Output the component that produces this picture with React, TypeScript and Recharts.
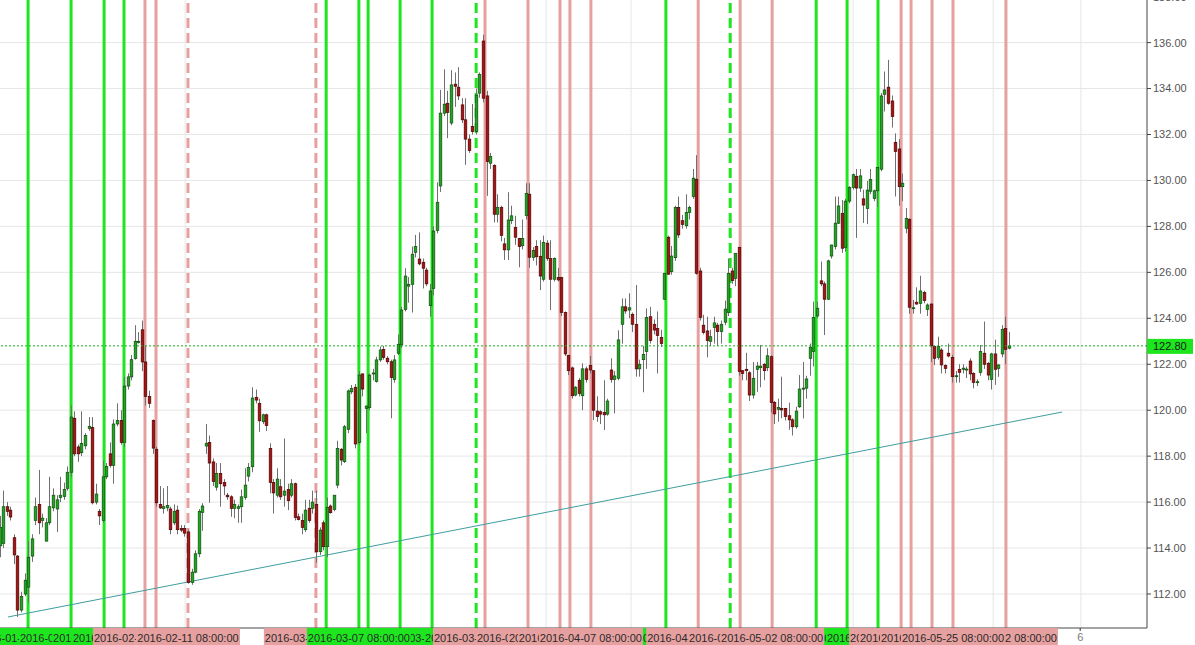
import { ComposedChart, Bar, XAxis, YAxis, CartesianGrid, ReferenceLine } from "recharts";

// [open, high, low, close], one row per 8h candle
const OHLC: [number, number, number, number][] = [
  [114.1, 115.4, 113.6, 114.9], [114.2, 116.5, 114.0, 115.8], [115.8, 116.0, 115.4, 115.6], [115.65, 115.8, 115.2, 115.35],
  [114.45, 114.6, 113.3, 113.7], [113.65, 113.7, 111.0, 111.3], [111.3, 112.1, 111.2, 111.9], [112.0, 112.9, 111.9, 112.6],
  [112.3, 114.3, 111.6, 113.6], [113.65, 114.6, 113.4, 114.4], [115.2, 116.2, 115.0, 115.8], [115.9, 117.4, 114.6, 115.1],
  [115.2, 115.5, 114.9, 115.3], [114.3, 115.3, 114.3, 115.1], [115.1, 117.1, 115.0, 115.8], [115.75, 116.6, 115.6, 116.3],
  [115.7, 116.3, 114.7, 116.1], [116.2, 117.1, 116.0, 116.3], [116.25, 116.85, 116.1, 116.55], [116.6, 117.55, 116.5, 117.3],
  [117.3, 120.2, 117.1, 119.7], [119.65, 119.95, 118.0, 118.1], [118.4, 118.5, 117.75, 118.1], [118.15, 119.95, 118.0, 118.55],
  [118.45, 119.0, 118.3, 118.9], [119.2, 119.7, 119.1, 119.3], [119.25, 119.7, 115.9, 115.97], [116.0, 116.8, 115.9, 116.35],
  [115.6, 115.7, 115.0, 115.4], [115.2, 117.8, 115.1, 117.1], [117.1, 117.7, 117.0, 117.55], [118.1, 118.6, 117.5, 117.6],
  [117.6, 119.6, 116.8, 119.4], [119.4, 120.3, 119.3, 119.55], [119.55, 120.0, 118.5, 118.6], [118.6, 121.45, 118.4, 121.05],
  [121.05, 121.6, 120.9, 121.45], [121.45, 122.4, 121.3, 122.2], [122.25, 123.7, 122.2, 123.0], [122.95, 123.4, 122.9, 123.0],
  [123.5, 123.9, 121.7, 122.1], [122.1, 122.8, 120.2, 120.6], [120.6, 120.85, 120.1, 120.3], [119.55, 119.6, 118.1, 118.35],
  [118.3, 118.4, 115.8, 115.97], [115.9, 116.7, 115.7, 115.75], [115.72, 116.6, 115.5, 115.8], [115.75, 116.7, 115.6, 115.85],
  [115.7, 115.8, 114.6, 114.8], [115.1, 115.9, 115.0, 115.6], [115.65, 115.85, 114.6, 114.8], [114.85, 115.0, 114.7, 114.78],
  [114.85, 115.0, 114.5, 114.65], [114.7, 114.8, 112.45, 112.5], [112.5, 113.1, 112.4, 112.95], [112.95, 113.9, 112.9, 113.75],
  [113.75, 115.7, 113.6, 115.6], [115.55, 115.95, 114.75, 115.83], [118.44, 119.4, 118.1, 118.56], [118.6, 118.9, 115.97, 117.7],
  [117.75, 117.9, 116.7, 116.9], [116.65, 117.7, 116.5, 117.25], [117.25, 117.7, 115.8, 116.8], [116.85, 117.0, 116.3, 116.7],
  [116.3, 116.4, 116.1, 116.23], [116.23, 116.3, 115.36, 115.73], [115.73, 116.1, 115.3, 115.9], [115.72, 115.9, 115.1, 115.8],
  [115.8, 116.55, 115.1, 116.23], [116.2, 117.47, 116.1, 116.74], [117.13, 117.7, 116.9, 117.5], [117.54, 121.0, 117.3, 120.53],
  [120.56, 120.9, 120.3, 120.44], [120.3, 120.5, 119.06, 119.54], [119.5, 119.85, 119.4, 119.8], [119.8, 119.85, 119.1, 119.33],
  [118.34, 118.56, 116.38, 116.85], [116.85, 117.0, 115.5, 116.4], [116.3, 117.47, 116.2, 117.0], [116.67, 117.0, 116.1, 116.23],
  [116.3, 118.77, 115.8, 116.48], [116.55, 116.8, 115.65, 116.06], [116.3, 117.0, 116.2, 116.8], [116.8, 116.85, 115.2, 115.33],
  [115.36, 115.5, 115.2, 115.24], [115.2, 115.5, 114.6, 114.9], [114.8, 116.1, 114.7, 115.65], [115.73, 116.1, 115.1, 115.2],
  [115.73, 116.5, 115.5, 116.0], [115.9, 116.5, 113.36, 113.84], [113.84, 114.9, 113.7, 114.78], [115.1, 115.2, 113.9, 114.06],
  [114.06, 116.2, 113.6, 115.76], [115.83, 115.9, 115.5, 115.54], [115.68, 116.3, 115.6, 116.3], [116.74, 118.67, 116.6, 118.34],
  [118.3, 118.35, 117.6, 117.83], [117.76, 119.36, 117.7, 119.28], [119.17, 120.9, 119.0, 120.84], [120.8, 121.1, 120.7, 120.95],
  [121.0, 121.14, 118.34, 118.53], [118.6, 121.7, 118.5, 121.53], [121.58, 121.6, 120.6, 120.92], [120.08, 120.2, 119.0, 120.18],
  [120.11, 121.6, 120.0, 121.53], [121.58, 121.8, 121.3, 121.62], [121.25, 122.33, 121.2, 122.19], [122.19, 122.77, 122.1, 122.62],
  [122.65, 122.8, 122.2, 122.3], [122.26, 122.35, 122.0, 122.11], [122.11, 122.2, 119.65, 121.42], [121.34, 122.4, 121.2, 122.19],
  [122.48, 123.3, 122.4, 122.87], [122.84, 124.5, 122.7, 124.36], [124.39, 126.18, 124.3, 125.84], [125.4, 125.8, 124.68, 125.48],
  [125.48, 127.12, 124.25, 126.79], [126.87, 127.63, 126.65, 127.12], [126.58, 127.74, 126.3, 126.37], [126.44, 126.6, 125.3, 126.18],
  [126.1, 126.2, 125.4, 125.5], [124.55, 125.5, 124.07, 125.19], [125.3, 128.0, 125.0, 127.8], [127.82, 129.92, 127.7, 129.05],
  [129.76, 133.94, 129.5, 132.93], [132.93, 134.84, 132.8, 133.32], [133.36, 133.9, 131.84, 132.96], [132.5, 134.8, 132.4, 134.16],
  [134.19, 134.7, 133.2, 134.1], [134.06, 134.93, 133.5, 133.68], [133.29, 133.58, 132.5, 132.64], [132.64, 133.58, 130.68, 131.8],
  [131.8, 132.0, 131.2, 131.3], [132.35, 133.33, 132.0, 132.13], [132.13, 134.0, 132.0, 133.72], [133.8, 134.7, 133.6, 134.62],
  [136.07, 136.34, 133.4, 133.58], [133.68, 133.9, 129.33, 130.82], [130.75, 131.2, 130.5, 131.04], [130.66, 130.7, 128.17, 128.53],
  [128.53, 129.4, 128.17, 128.83], [128.82, 128.9, 127.35, 127.61], [127.24, 127.5, 126.54, 126.98], [126.98, 129.49, 126.54, 128.28],
  [128.25, 128.9, 128.1, 128.46], [127.96, 128.46, 127.2, 127.53], [127.48, 127.5, 126.22, 127.12], [127.16, 128.3, 127.0, 127.48],
  [128.47, 129.88, 128.3, 129.44], [129.4, 129.88, 126.2, 126.66], [126.65, 127.1, 126.5, 126.95], [127.12, 127.4, 126.3, 126.68],
  [126.7, 127.4, 125.23, 125.84], [125.7, 127.6, 125.6, 127.3], [127.27, 127.4, 126.5, 126.6], [126.6, 127.4, 124.36, 125.7],
  [125.7, 126.65, 125.6, 126.6], [125.77, 126.2, 125.6, 125.67], [125.77, 125.8, 124.1, 124.25], [124.25, 124.3, 122.36, 122.45],
  [122.39, 122.4, 121.53, 121.72], [121.84, 121.9, 120.5, 120.63], [120.66, 121.05, 120.6, 121.0], [121.3, 121.4, 120.6, 120.73],
  [120.63, 122.04, 120.0, 121.8], [121.8, 121.9, 121.2, 121.34], [121.95, 122.36, 121.6, 121.75], [121.72, 121.75, 119.57, 120.0],
  [119.96, 120.6, 119.5, 119.72], [119.93, 120.0, 119.4, 119.83], [119.9, 121.3, 119.14, 119.8], [119.83, 120.5, 119.76, 120.4],
  [121.75, 122.26, 121.2, 121.34], [121.34, 121.7, 119.86, 121.49], [121.39, 123.48, 121.3, 123.06], [123.74, 124.87, 122.9, 124.5],
  [124.5, 124.87, 124.2, 124.32], [124.36, 125.09, 124.0, 124.46], [124.17, 124.25, 123.4, 123.74], [123.74, 125.45, 121.46, 121.8],
  [121.8, 122.2, 121.46, 122.0], [122.2, 122.8, 120.78, 122.43], [122.55, 124.43, 121.8, 124.04], [124.07, 124.5, 122.9, 123.03],
  [123.74, 123.95, 123.3, 123.49], [123.56, 124.3, 121.6, 123.25], [123.17, 123.5, 122.75, 122.9], [124.83, 125.97, 124.8, 125.96],
  [127.53, 127.6, 125.9, 125.92], [126.03, 127.15, 125.9, 126.71], [126.64, 128.9, 126.5, 128.82], [128.83, 129.3, 127.5, 127.63],
  [128.25, 128.5, 127.9, 128.09], [128.03, 129.4, 127.9, 128.61], [128.6, 128.9, 128.3, 128.82], [129.3, 130.5, 129.2, 130.1],
  [130.05, 131.1, 125.9, 125.96], [126.06, 126.2, 123.9, 124.04], [123.7, 124.15, 123.3, 123.38], [123.45, 124.07, 122.3, 123.03],
  [123.0, 123.5, 122.8, 123.2], [123.6, 124.07, 122.9, 123.8], [123.7, 123.8, 122.8, 123.42], [123.42, 123.9, 122.9, 123.74],
  [123.83, 124.77, 123.7, 124.4], [124.25, 126.6, 124.1, 125.96], [126.06, 126.2, 125.5, 125.64], [125.74, 126.83, 125.4, 126.83],
  [127.09, 127.1, 121.5, 121.68], [121.72, 121.75, 121.3, 121.6], [121.78, 122.5, 121.3, 121.72], [121.63, 121.7, 120.4, 120.66],
  [120.66, 122.1, 120.5, 121.39], [121.78, 122.1, 120.8, 121.92], [121.85, 122.84, 121.0, 121.92], [122.0, 122.05, 121.3, 121.72],
  [121.85, 122.7, 121.7, 122.37], [122.33, 122.4, 119.9, 120.33], [120.33, 120.4, 119.4, 119.84], [120.04, 120.5, 119.5, 120.12],
  [120.08, 121.46, 119.65, 120.01], [120.08, 120.1, 119.55, 119.72], [119.76, 120.33, 119.15, 119.58], [119.58, 119.65, 118.9, 119.28],
  [119.28, 120.15, 119.2, 119.96], [120.15, 121.53, 120.1, 120.92], [120.92, 122.1, 119.64, 120.96], [120.96, 121.5, 120.5, 121.36],
  [122.26, 122.9, 121.5, 122.74], [122.55, 124.73, 121.9, 124.04], [124.1, 124.73, 124.0, 124.44], [125.63, 126.47, 125.4, 125.5],
  [125.5, 125.6, 123.27, 124.83], [124.83, 126.55, 124.8, 126.5], [126.71, 127.2, 126.6, 127.19], [127.12, 129.3, 127.0, 128.14],
  [128.14, 129.3, 128.1, 128.89], [128.57, 129.15, 126.85, 127.05], [127.08, 129.2, 126.9, 129.1], [129.1, 129.75, 129.0, 129.69],
  [129.7, 130.3, 129.6, 130.25], [130.17, 130.5, 127.5, 129.67], [129.67, 130.5, 129.5, 130.2], [129.2, 129.6, 128.15, 128.93],
  [128.78, 129.98, 128.1, 129.58], [129.53, 130.5, 129.4, 130.04], [129.22, 129.6, 129.1, 129.55], [129.55, 130.57, 128.85, 130.57],
  [130.49, 133.8, 130.4, 133.68], [133.75, 134.74, 133.0, 133.94], [134.06, 135.25, 133.3, 133.36], [133.46, 133.7, 132.3, 132.78],
  [131.66, 132.05, 129.3, 131.26], [131.37, 131.8, 128.9, 129.73], [129.73, 130.3, 129.1, 129.88], [127.92, 128.8, 127.7, 128.35],
  [128.31, 128.35, 124.2, 124.48], [124.44, 124.8, 124.2, 124.46], [124.7, 125.35, 124.6, 124.62], [124.65, 125.85, 124.2, 125.19],
  [125.13, 125.2, 124.65, 124.77], [124.39, 124.65, 124.1, 124.58], [124.62, 124.65, 122.1, 122.8], [122.77, 122.8, 121.96, 122.26],
  [122.3, 123.2, 122.2, 122.77], [122.62, 122.7, 121.6, 121.97], [121.94, 122.0, 121.6, 121.82], [122.48, 122.9, 122.3, 122.36],
  [122.3, 122.4, 121.2, 121.46], [121.46, 121.7, 121.2, 121.5], [121.78, 122.0, 121.2, 121.65], [121.78, 122.0, 121.6, 121.83],
  [121.78, 121.9, 121.4, 121.79], [122.14, 122.26, 121.3, 121.58], [121.6, 121.65, 120.95, 121.2], [121.2, 121.35, 121.05, 121.24],
  [121.64, 122.84, 121.5, 122.55], [122.48, 123.86, 121.8, 122.0], [122.04, 122.1, 121.3, 121.53], [121.34, 122.5, 120.9, 122.45],
  [122.45, 123.07, 121.1, 121.78], [121.82, 122.0, 121.45, 121.97], [122.45, 123.7, 122.3, 123.52], [123.56, 124.07, 122.0, 122.65],
  [122.7, 123.4, 122.65, 122.8],
];

// signal lines, listed in the order they were drawn (later ones sit on top)
const SIGNALS: { at: number; kind: "buy" | "sell"; dashed?: boolean; date: string }[] = [
  { at: 7.9, kind: "buy", date: "2016-01-21 08:00:00" },
  { at: 20.0, kind: "buy", date: "2016-01-27 08:00:00" },
  { at: 29.3, kind: "buy", date: "2016-02-01 08:00:00" },
  { at: 34.9, kind: "buy", date: "2016-02-03 08:00:00" },
  { at: 91.8, kind: "buy", date: "2016-03-02 08:00:00" },
  { at: 103.6, kind: "buy", date: "2016-03-08 08:00:00" },
  { at: 112.6, kind: "buy", date: "2016-03-10 16:00:00" },
  { at: 121.6, kind: "buy", date: "2016-03-14 08:00:00" },
  { at: 134.0, kind: "buy", dashed: true, date: "2016-03-17 08:00:00" },
  { at: 187.4, kind: "buy", date: "2016-04-14 08:00:00" },
  { at: 205.5, kind: "buy", dashed: true, date: "2016-04-21 08:00:00" },
  { at: 229.7, kind: "buy", date: "2016-05-06 08:00:00" },
  { at: 238.4, kind: "buy", date: "2016-05-10 08:00:00" },
  { at: 247.1, kind: "buy", date: "2016-05-13 08:00:00" },
  { at: 43.9, kind: "sell", date: "2016-02-08 08:00:00" },
  { at: 40.8, kind: "sell", date: "2016-02-05 08:00:00" },
  { at: 52.9, kind: "sell", dashed: true, date: "2016-02-11 08:00:00" },
  { at: 88.9, kind: "sell", dashed: true, date: "2016-03-01 08:00:00" },
  { at: 101.0, kind: "buy", date: "2016-03-07 08:00:00" },
  { at: 136.5, kind: "sell", date: "2016-03-18 08:00:00" },
  { at: 148.6, kind: "sell", date: "2016-03-23 08:00:00" },
  { at: 157.6, kind: "sell", date: "2016-03-29 08:00:00" },
  { at: 160.4, kind: "sell", date: "2016-04-01 08:00:00" },
  { at: 166.3, kind: "sell", date: "2016-04-07 08:00:00" },
  { at: 196.5, kind: "sell", date: "2016-04-18 08:00:00" },
  { at: 208.3, kind: "sell", date: "2016-04-22 08:00:00" },
  { at: 217.3, kind: "sell", date: "2016-05-02 08:00:00" },
  { at: 283.1, kind: "sell", date: "2016-06-02 08:00:00" },
  { at: 253.6, kind: "sell", date: "2016-05-17 08:00:00" },
  { at: 256.4, kind: "sell", date: "2016-05-18 08:00:00" },
  { at: 262.3, kind: "sell", date: "2016-05-20 08:00:00" },
  { at: 268.2, kind: "sell", date: "2016-05-25 08:00:00" },
];

const V_GRID = [52.1, 153.7, 177.6, 240.1, 279.5, 304.2];
const X_TICKS = [53.5, 102.2, 147.2, 217.3, 268.2, 304.0];
const X_TICK_TEXT = ["", "", "", "", "", "6"];
const Y_TICKS = [112, 114, 116, 118, 120, 122, 124, 126, 128, 130, 132, 134, 136, 138];
const LAST_PRICE = 122.8;
const TREND = [{ x: 2.25, y: 111.0 }, { x: 298.9, y: 119.92 }];

const FONT = "'Liberation Sans', Arial, sans-serif";
const BUY = "#1ee61e";
const SELL = "#e6a0a0";

const data = OHLC.map(([open, high, low, close], i) => ({ i, open, high, low, close, range: [low, high] }));

function Candle(props: any) {
  const { x, y, width, height, payload } = props;
  if (x == null || y == null) return null;
  const top = Math.min(y, y + height);
  const bot = Math.max(y, y + height);
  const { open, high, low, close } = payload;
  const py = (v: number) => top + ((high - v) / (high - low)) * (bot - top);
  const cx = Math.round(x + width / 2) + 0.5;
  const up = close >= open;
  const bt = py(Math.max(open, close));
  const bb = py(Math.min(open, close));
  return (
    <g>
      <line x1={cx} x2={cx} y1={top} y2={bot} stroke="#707070" strokeWidth={1} />
      <rect
        x={cx - 1.3}
        y={bt}
        width={2.6}
        height={Math.max(1, bb - bt)}
        fill={up ? "#22a322" : "#a81313"}
        stroke={up ? "#0c4f0c" : "#4d0202"}
        strokeWidth={0.7}
      />
    </g>
  );
}

function DateTag({ viewBox, text, kind }: any) {
  if (!viewBox) return null;
  const w = 104;
  const x = viewBox.x - w / 2;
  const y = viewBox.y + viewBox.height;
  return (
    <g>
      <rect x={x} y={y} width={w} height={18} fill={kind === "buy" ? BUY : SELL} />
      <text x={viewBox.x} y={y + 14} textAnchor="middle" fontSize={11} fontFamily={FONT} fill="#2b2b2b">
        {text}
      </text>
    </g>
  );
}

function PriceTag({ viewBox }: any) {
  if (!viewBox) return null;
  const x = viewBox.x + viewBox.width;
  const y = viewBox.y;
  return (
    <g>
      <rect x={x} y={y - 7} width={46} height={15} fill={BUY} />
      <text x={x + 6} y={y + 4.5} fontSize={11} fontFamily={FONT} fill="#1a1a1a">
        {LAST_PRICE.toFixed(2)}
      </text>
    </g>
  );
}

export default function App() {
  return (
    <div style={{ position: "absolute", left: 0, top: -10, background: "#fff" }}>
      <ComposedChart width={1195} height={655} data={data} margin={{ top: 0, right: 0, bottom: 0, left: 0 }}>
        <CartesianGrid vertical={false} stroke="#e6e6e6" />
        <XAxis
          dataKey="i"
          type="number"
          domain={[0, 322.8]}
          allowDataOverflow
          ticks={X_TICKS}
          tickFormatter={(_v: number, idx: number) => X_TICK_TEXT[idx] ?? ""}
          height={17}
          axisLine={{ stroke: "#555" }}
          tickLine={{ stroke: "#333" }}
          tickSize={3}
          tick={{ fontSize: 11, fontFamily: FONT, fill: "#777" }}
        />
        <YAxis
          orientation="right"
          domain={[110.52, 138.29]}
          allowDataOverflow
          ticks={Y_TICKS}
          width={48}
          tickFormatter={(v: number) => v.toFixed(2)}
          axisLine={{ stroke: "#444" }}
          tickLine={{ stroke: "#444" }}
          tickSize={4}
          tick={{ fontSize: 11, fontFamily: FONT, fill: "#555", textAnchor: "start" }}
        />
        {V_GRID.map((g) => (
          <ReferenceLine key={"g" + g} x={g} stroke="#e6e6e6" zIndex={-60} />
        ))}
        {SIGNALS.map((s) => (
          <ReferenceLine
            key={"l" + s.at}
            x={s.at}
            stroke={s.kind === "buy" ? BUY : SELL}
            strokeWidth={3}
            strokeDasharray={s.dashed ? "10 5" : undefined}
            zIndex={-50}
          />
        ))}
        <ReferenceLine segment={TREND} stroke="#3f9d9d" strokeWidth={1} ifOverflow="visible" zIndex={-40} />
        <Bar dataKey="range" barSize={3} shape={<Candle />} isAnimationActive={false} />
        <ReferenceLine y={LAST_PRICE} stroke="#22aa22" strokeDasharray="2 2" />
        {SIGNALS.map((s) => (
          <ReferenceLine
            key={"t" + s.at}
            x={s.at}
            stroke="none"
            zIndex={2000}
            label={(p: any) => <DateTag viewBox={p.viewBox} text={s.date} kind={s.kind} />}
          />
        ))}
        <ReferenceLine
          y={LAST_PRICE}
          stroke="none"
          zIndex={2000}
          label={(p: any) => <PriceTag viewBox={p.viewBox} />}
        />
      </ComposedChart>
    </div>
  );
}
